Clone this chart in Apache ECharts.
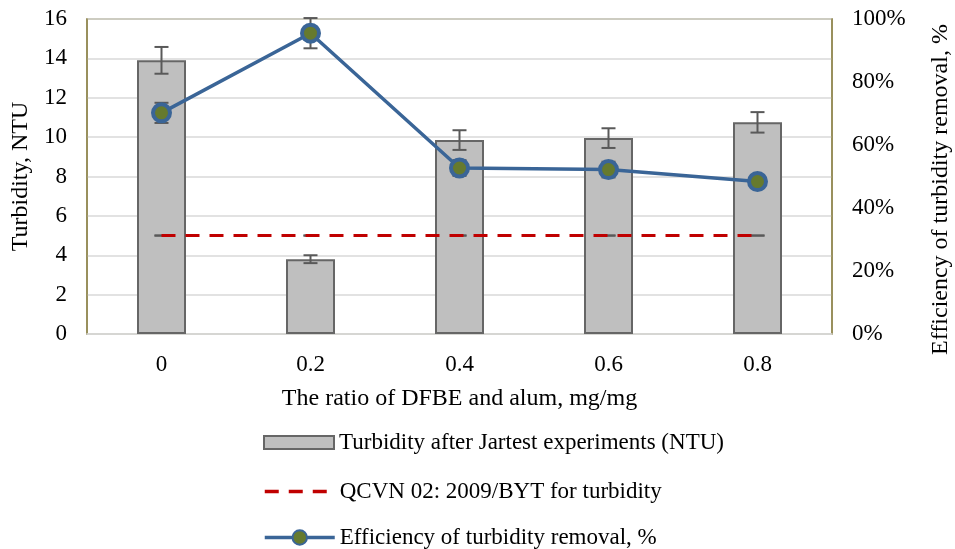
<!DOCTYPE html>
<html>
<head>
<meta charset="utf-8">
<script src="https://cdn.jsdelivr.net/npm/echarts@6/dist/echarts.min.js"></script>
<style>html,body{margin:0;padding:0;background:#fff}#c{width:955px;height:549px}</style>
</head>
<body>
<div id="c"></div>
<script>
const categories = ['0', '0.2', '0.4', '0.6', '0.8'];
const turbidity = [13.9, 3.8, 9.85, 9.95, 10.75];
const turbidityErr = [0.68, 0.2, 0.5, 0.5, 0.52];
const standard = [5, 5, 5, 5, 5];
const standardErr = [0, 0, 0, 0, 0];
const efficiency = [70.2, 95.5, 52.7, 52.2, 48.4];
const efficiencyErr = [3.2, 4.8, 2.5, 2.5, 2.0];
const leftTicks = {min: 0, max: 16, interval: 2};
const rightTicks = {min: 0, max: 100, interval: 20};
const seriesNames = ['Turbidity after Jartest experiments (NTU)', 'QCVN 02: 2009/BYT for turbidity', 'Efficiency of turbidity removal, %'];

const FONT = "'Liberation Serif', 'Times New Roman', serif";
const errColor = '#595959';
const FS = 23;
const FT = 24;

function errData(vals, errs) {
  return vals.map((v, i) => [i, v - errs[i], v + errs[i]]);
}
function errRender(params, api) {
  const i = api.value(0);
  const lo = api.coord([i, api.value(1)]);
  const hi = api.coord([i, api.value(2)]);
  const w = 7;
  const style = {stroke: errColor, lineWidth: 2};
  return {
    type: 'group',
    children: [
      {type: 'line', shape: {x1: hi[0], y1: hi[1], x2: lo[0], y2: lo[1]}, style},
      {type: 'line', shape: {x1: hi[0] - w, y1: hi[1], x2: hi[0] + w, y2: hi[1]}, style},
      {type: 'line', shape: {x1: lo[0] - w, y1: lo[1], x2: lo[0] + w, y2: lo[1]}, style}
    ]
  };
}
function mkLegend(name, top, icon, h) {
  const l = {
    orient: 'horizontal', left: 263, top: top, padding: 0,
    itemWidth: 70, itemHeight: h || 13, itemGap: 0,
    textStyle: {fontFamily: FONT, fontSize: FS, color: '#000'},
    lineStyle: {width: 3.5},
    data: [{name: name}]
  };
  if (icon) l.data[0].icon = icon;
  return l;
}

const chart = echarts.init(document.getElementById('c'));
chart.setOption({
  animation: false,
  textStyle: {fontFamily: FONT, color: '#000'},
  grid: {left: 87, right: 123, top: 19, bottom: 215, containLabel: false, outerBoundsMode: 'none',
         show: true, borderColor: '#938953', borderWidth: 1.5, backgroundColor: 'transparent'},
  legend: [
    mkLegend(seriesNames[0], 431, 'rect', 13),
    mkLegend(seriesNames[1], 480, null, 13),
    mkLegend(seriesNames[2], 526, null, 18)
  ],
  xAxis: {
    type: 'category', data: categories,
    name: 'The ratio of DFBE and alum, mg/mg', nameLocation: 'middle', nameGap: 53,
    nameTextStyle: {fontFamily: FONT, fontSize: FT, color: '#000'},
    axisLine: {lineStyle: {color: '#d9d9d9', width: 1.5}},
    axisTick: {show: false},
    axisLabel: {fontFamily: FONT, fontSize: FS, color: '#000', margin: 19}
  },
  yAxis: [
    {
      type: 'value', min: leftTicks.min, max: leftTicks.max, interval: leftTicks.interval,
      name: 'Turbidity, NTU', nameLocation: 'middle', nameGap: 53, nameRotate: 90,
      nameTextStyle: {fontFamily: FONT, fontSize: FT, color: '#000'},
      axisLine: {show: true, lineStyle: {color: '#938953', width: 1.5}},
      axisTick: {show: false},
      splitLine: {lineStyle: {color: '#d9d9d9', width: 1.5}},
      axisLabel: {fontFamily: FONT, fontSize: FS, color: '#000', margin: 20}
    },
    {
      type: 'value', min: rightTicks.min, max: rightTicks.max, interval: rightTicks.interval,
      name: 'Efficiency of turbidity removal, %', nameLocation: 'middle', nameGap: 97, nameRotate: 90,
      nameTextStyle: {fontFamily: FONT, fontSize: FT, color: '#000', padding: [0, 26, 0, 0]},
      axisLine: {show: true, lineStyle: {color: '#938953', width: 1.5}},
      axisTick: {show: false},
      splitLine: {show: false},
      axisLabel: {fontFamily: FONT, fontSize: FS, color: '#000', margin: 20, formatter: '{value}%'}
    }
  ],
  series: [
    {
      name: seriesNames[0], type: 'bar', data: turbidity,
      barWidth: 49,
      itemStyle: {color: '#bfbfbf', borderColor: '#666666', borderWidth: 2},
      z: 2
    },
    {
      name: 'barErr', type: 'custom', data: errData(turbidity, turbidityErr),
      renderItem: errRender, z: 3, encode: {x: 0, y: [1, 2]}
    },
    {
      name: 'stdErr', type: 'custom', data: errData(standard, standardErr),
      renderItem: errRender, z: 3, encode: {x: 0, y: [1, 2]}
    },
    {
      name: seriesNames[1], type: 'line', data: standard,
      symbol: 'none', lineStyle: {color: '#C00000', width: 3, type: [14, 10]},
      itemStyle: {color: '#C00000', opacity: 0}, z: 4
    },
    {
      name: 'lineErr', type: 'custom', yAxisIndex: 1, data: errData(efficiency, efficiencyErr),
      renderItem: errRender, z: 5, encode: {x: 0, y: [1, 2]}
    },
    {
      name: seriesNames[2], type: 'line', yAxisIndex: 1, data: efficiency,
      symbol: 'circle', symbolSize: 17,
      lineStyle: {color: '#3A6597', width: 3.5},
      itemStyle: {color: '#667A2E', borderColor: '#3A6597', borderWidth: 4},
      z: 6
    }
  ]
});
</script>
</body>
</html>
